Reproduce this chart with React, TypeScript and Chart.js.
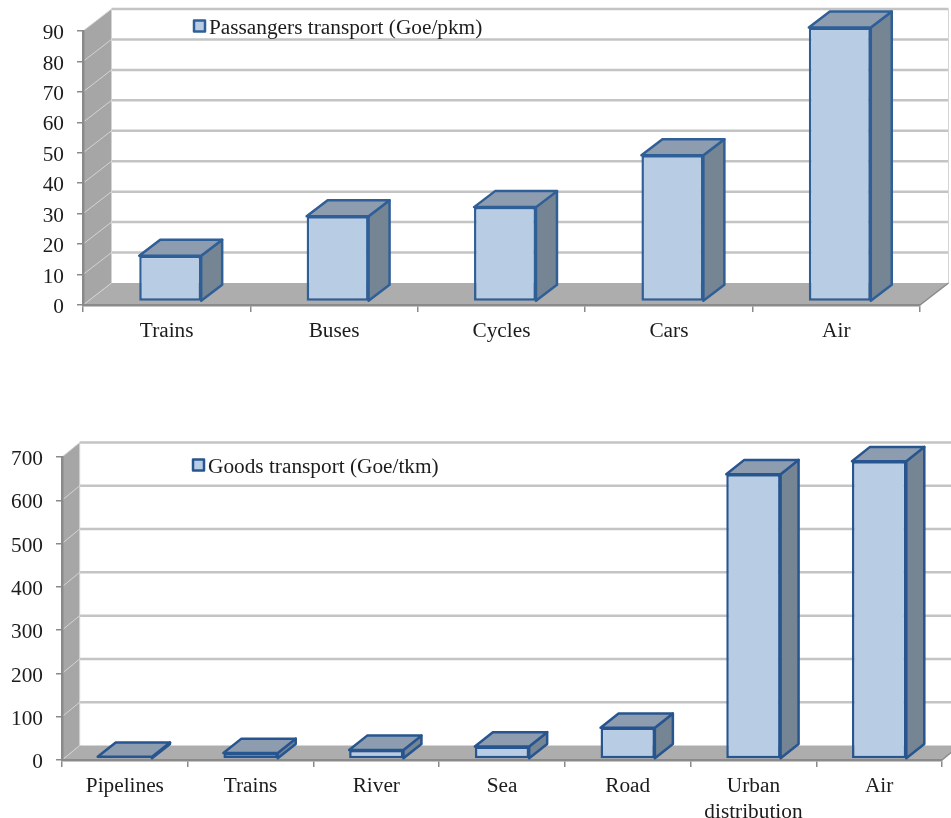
import React, { useEffect, useRef } from "react";
import { Chart, registerables } from "chart.js";

Chart.register(...registerables);

const passengerCategories = ["Trains", "Buses", "Cycles", "Cars", "Air"];
const passengerValues = [15, 28, 31, 48, 90];
const passengerLabel = "Passangers transport (Goe/pkm)";

const goodsCategories = ["Pipelines", "Trains", "River", "Sea", "Road", ["Urban", "distribution"], "Air"];
const goodsValues = [5, 14, 21, 29, 72, 658, 688];
const goodsLabel = "Goods transport (Goe/tkm)";

const FONT = "'Liberation Serif', 'Times New Roman', serif";
const FONT_SIZE = 21.3;
const TEXT = "#1c1c1c";
const AXIS = "#8a8a8a";
const WALL = "#a6a6a6";
const FLOOR = "#adadad";
const GRID = "#c4c4c4";
const WALL_GRID = "#d4d4d4";
const FRONT = "#b8cce4";
const TOP = "#8e9cb0";
const SIDE = "#758594";

type Look = {
  pad: { left: number; right: number; top: number; bottom: number };
  wall: { dx: number; dy: number };
  bar: { dx: number; dy: number; shiftX: number; shiftY: number };
  legend: { x: number; y: number };
  edge: string;
};

function poly(ctx: CanvasRenderingContext2D, pts: number[][], fill?: string, stroke?: string, w = 1) {
  ctx.beginPath();
  pts.forEach(([x, y], i) => (i ? ctx.lineTo(x, y) : ctx.moveTo(x, y)));
  ctx.closePath();
  if (fill) {
    ctx.fillStyle = fill;
    ctx.fill();
  }
  if (stroke) {
    ctx.strokeStyle = stroke;
    ctx.lineWidth = w;
    ctx.lineJoin = "round";
    ctx.stroke();
  }
}

// Back wall, side wall, floor and raised gridlines of the 3D box.
const boxPlugin = (look: Look) => ({
  id: "box",
  beforeDraw(chart: any) {
    const { ctx, chartArea: a, scales } = chart;
    const { dx, dy } = look.wall;
    poly(ctx, [[a.left, a.top], [a.left + dx, a.top - dy], [a.left + dx, a.bottom - dy], [a.left, a.bottom]], WALL);
    poly(ctx, [[a.left, a.bottom], [a.left + dx, a.bottom - dy], [a.right + dx, a.bottom - dy], [a.right, a.bottom]], FLOOR);
    scales.y.ticks.forEach((t: any) => {
      const y = scales.y.getPixelForValue(t.value);
      if (t.value !== 0) {
        ctx.strokeStyle = GRID;
        ctx.lineWidth = 2.5;
        ctx.beginPath();
        ctx.moveTo(a.left + dx, y - dy);
        ctx.lineTo(a.right + dx, y - dy);
        ctx.stroke();
      }
      ctx.strokeStyle = WALL_GRID;
      ctx.lineWidth = 1;
      ctx.beginPath();
      ctx.moveTo(a.left, y);
      ctx.lineTo(a.left + dx, y - dy);
      ctx.stroke();
    });
    ctx.strokeStyle = WALL_GRID;
    ctx.lineWidth = 1;
    ctx.beginPath();
    ctx.moveTo(a.left + dx, a.top - dy);
    ctx.lineTo(a.left + dx, a.bottom - dy);
    ctx.moveTo(a.right + dx, a.top - dy);
    ctx.lineTo(a.right + dx, a.bottom - dy);
    ctx.stroke();
    ctx.strokeStyle = AXIS;
    ctx.lineWidth = 1.5;
    ctx.beginPath();
    ctx.moveTo(a.right, a.bottom);
    ctx.lineTo(a.right + dx, a.bottom - dy);
    ctx.stroke();
  },
  // Top and side faces sit behind the front faces the bar controller draws.
  beforeDatasetDraw(chart: any, args: any) {
    const { ctx } = chart;
    const { dx, dy, shiftX, shiftY } = look.bar;
    ctx.save();
    ctx.translate(shiftX, shiftY);
    chart.getDatasetMeta(args.index).data.forEach((el: any) => {
      const { x, y, base, width } = el.getProps(["x", "y", "base", "width"], true);
      const l = x - width / 2;
      const r = x + width / 2;
      poly(ctx, [[r, y], [r + dx, y - dy], [r + dx, base - dy], [r, base]], SIDE, look.edge, 2.5);
      poly(ctx, [[l, y], [l + dx, y - dy], [r + dx, y - dy], [r, y]], TOP, look.edge, 2.5);
    });
  },
  afterDatasetDraw(chart: any) {
    chart.ctx.restore();
  },
  // Key placed inside the plot, over the back wall.
  afterDraw(chart: any) {
    const { ctx } = chart;
    const { x, y } = look.legend;
    poly(ctx, [[x + 1, y - 5.5], [x + 12, y - 5.5], [x + 12, y + 5.5], [x + 1, y + 5.5]], FRONT, look.edge, 2.5);
    ctx.fillStyle = TEXT;
    ctx.font = `${FONT_SIZE}px ${FONT}`;
    ctx.textAlign = "left";
    ctx.textBaseline = "middle";
    ctx.fillText(chart.data.datasets[0].label, x + 16, y + 2);
  },
});

function Bar3D({ labels, values, label, max, step, barPct, look, top, height }: any) {
  const ref = useRef<HTMLCanvasElement>(null);
  useEffect(() => {
    const chart = new Chart(ref.current!, {
      type: "bar",
      data: {
        labels,
        datasets: [
          {
            label,
            data: values,
            backgroundColor: FRONT,
            borderColor: look.edge,
            borderWidth: 2.5,
            borderSkipped: false,
            barPercentage: barPct,
            categoryPercentage: 1,
            clip: false,
          } as any,
        ],
      },
      options: {
        responsive: false,
        animation: false,
        layout: { padding: { left: 0, right: look.pad.right, top: look.pad.top, bottom: 0 } },
        plugins: { legend: { display: false }, tooltip: { enabled: false }, title: { display: false } },
        scales: {
          x: {
            grid: { drawOnChartArea: false, color: AXIS, tickLength: 7, lineWidth: 1.5, offset: true },
            border: { color: AXIS, width: 2.5 },
            ticks: { color: TEXT, font: { family: FONT, size: FONT_SIZE, lineHeight: 1.2 }, padding: 7, maxRotation: 0, autoSkip: false },
            afterFit: (s: any) => { s.height = look.pad.bottom; },
          },
          y: {
            min: 0,
            max,
            grid: { drawOnChartArea: false, color: AXIS, tickLength: 6, lineWidth: 1.5 },
            border: { color: AXIS, width: 2.5 },
            ticks: { stepSize: step, color: TEXT, font: { family: FONT, size: FONT_SIZE }, padding: 13, labelOffset: 2.5, autoSkip: false },
            afterFit: (s: any) => { s.width = look.pad.left; },
          },
        },
      },
      plugins: [boxPlugin(look)],
    } as any);
    return () => chart.destroy();
  }, []);
  return (
    <canvas
      ref={ref}
      width={951}
      height={height}
      style={{ position: "absolute", left: 0, top, display: "block" }}
    />
  );
}

const passengerLook: Look = {
  pad: { left: 83, right: 31, top: 31, bottom: 75 },
  wall: { dx: 28.5, dy: 22 },
  bar: { dx: 21, dy: 16, shiftX: 3.5, shiftY: -3.5 },
  legend: { x: 193, y: 26 },
  edge: "#2f5f97",
};

const goodsLook: Look = {
  pad: { left: 62, right: 9, top: 47, bottom: 58 },
  wall: { dx: 17.7, dy: 14.5 },
  bar: { dx: 18, dy: 14.3, shiftX: 0, shiftY: -1 },
  legend: { x: 192, y: 55 },
  edge: "#27558f",
};

export default function App() {
  return (
    <div style={{ position: "absolute", left: 0, top: 0, width: 951, height: 818, overflow: "hidden", background: "#fff" }}>
      <Bar3D labels={passengerCategories} values={passengerValues} label={passengerLabel} max={90} step={10} barPct={0.37} look={passengerLook} top={0} height={380} />
      <Bar3D labels={goodsCategories} values={goodsValues} label={goodsLabel} max={700} step={100} barPct={0.432} look={goodsLook} top={410} height={408} />
    </div>
  );
}
